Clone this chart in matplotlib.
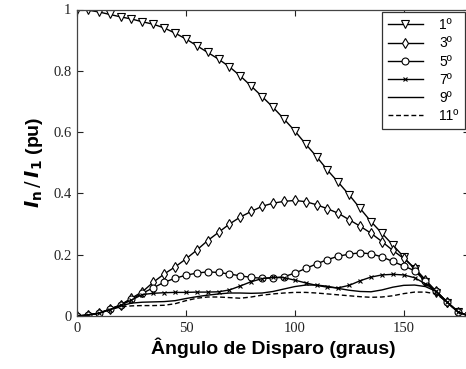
import matplotlib
matplotlib.use("Agg")
import matplotlib.pyplot as plt
import numpy as np

angle = list(range(0, 181, 5))

h1 = [1.0, 0.998, 0.992, 0.984, 0.976, 0.969, 0.96, 0.952, 0.94, 0.923, 0.904, 0.882,
      0.86, 0.838, 0.813, 0.783, 0.75, 0.716, 0.681, 0.643, 0.604, 0.561, 0.52, 0.476,
      0.436, 0.395, 0.351, 0.308, 0.27, 0.232, 0.193, 0.153, 0.112, 0.075, 0.043, 0.014, 0.0]
h3 = [0.0, 0.003, 0.009, 0.022, 0.036, 0.058, 0.079, 0.11, 0.137, 0.16, 0.186, 0.215,
      0.246, 0.273, 0.3, 0.323, 0.341, 0.358, 0.368, 0.374, 0.377, 0.373, 0.363, 0.35,
      0.335, 0.314, 0.293, 0.27, 0.243, 0.214, 0.188, 0.157, 0.118, 0.08, 0.045, 0.013, 0.0]
h5 = [0.0, 0.003, 0.009, 0.022, 0.036, 0.055, 0.074, 0.092, 0.11, 0.123, 0.133, 0.14,
      0.144, 0.142, 0.137, 0.131, 0.126, 0.123, 0.124, 0.128, 0.14, 0.155, 0.17, 0.184,
      0.195, 0.202, 0.206, 0.203, 0.193, 0.178, 0.163, 0.148, 0.113, 0.08, 0.045, 0.013, 0.0]
h7 = [0.0, 0.003, 0.009, 0.021, 0.035, 0.052, 0.07, 0.074, 0.076, 0.077, 0.077, 0.078,
      0.078, 0.079, 0.085, 0.098, 0.112, 0.122, 0.126, 0.125, 0.117, 0.108, 0.1, 0.094,
      0.092, 0.1, 0.115, 0.127, 0.134, 0.136, 0.134, 0.125, 0.105, 0.08, 0.045, 0.013, 0.0]
h9 = [0.0, 0.003, 0.009, 0.02, 0.033, 0.042, 0.045, 0.046, 0.047, 0.05, 0.057, 0.063,
      0.068, 0.072, 0.075, 0.075, 0.074, 0.075, 0.08, 0.088, 0.096, 0.101, 0.101, 0.097,
      0.09, 0.084, 0.08, 0.079, 0.085, 0.094, 0.1, 0.101, 0.096, 0.08, 0.045, 0.013, 0.0]
h11 = [0.0, 0.003, 0.009, 0.02, 0.03, 0.033, 0.034, 0.034, 0.035, 0.04, 0.05, 0.058,
       0.062, 0.062, 0.06, 0.058, 0.062, 0.068, 0.072, 0.075, 0.077, 0.077, 0.075, 0.072,
       0.069, 0.066, 0.063, 0.061, 0.062, 0.066, 0.073, 0.078, 0.078, 0.072, 0.045, 0.013, 0.0]

labels = ["1º", "3º", "5º", "7º", "9º", "11º"]
xticks = [0, 50, 100, 150]
yticks = [0, 0.2, 0.4, 0.6, 0.8, 1]
yticklabels = ["0", "0.2", "0.4", "0.6", "0.8", "1"]

fig = plt.figure(figsize=(4.66, 3.69), dpi=100)
W, H = 466, 369
ax = fig.add_axes([77 / W, (H - 316) / H, (469 - 77) / W, (316 - 9.5) / H])

lw = 1.0
ax.plot(angle, h1, color="black", lw=lw, marker="v", ms=5.5, mfc="white", mec="black", mew=0.8, label=labels[0])
ax.plot(angle, h3, color="black", lw=lw, marker="d", ms=5.5, mfc="white", mec="black", mew=0.8, label=labels[1])
ax.plot(angle, h5, color="black", lw=lw, marker="o", ms=5, mfc="white", mec="black", mew=0.8, label=labels[2])
ax.plot(angle, h7, color="black", lw=lw, marker="x", ms=3, mec="black", mew=0.8, label=labels[3])
ax.plot(angle, h9, color="black", lw=lw, label=labels[4])
ax.plot(angle, h11, color="black", lw=lw, ls=(0, (3.5, 2)), label=labels[5])

ax.set_xlim(0, 180)
ax.set_ylim(0, 1)
ax.set_xticks(xticks)
ax.set_yticks(yticks)
ax.set_yticklabels(yticklabels)
ax.tick_params(direction="in", top=True, right=True, length=4, width=0.8,
               labelsize=10.5, pad=4, colors="#222222")
for lab in ax.get_xticklabels() + ax.get_yticklabels():
    lab.set_family("Liberation Serif")
for sp in ax.spines.values():
    sp.set_linewidth(0.9)
    sp.set_color("#444444")

ax.set_xlabel("Ângulo de Disparo (graus)", family="Liberation Sans", fontweight="bold",
              fontsize=14, labelpad=2)
plt.rcParams["mathtext.fontset"] = "custom"
plt.rcParams["mathtext.bf"] = "Liberation Sans:bold"
plt.rcParams["mathtext.bfit"] = "Liberation Sans:bold:italic"
ax.set_ylabel(r"$\mathbfit{I}_{\mathbf{n}}\,/\,\mathbfit{I}_{\mathbf{1}}$ (pu)",
              family="Liberation Sans", fontweight="bold", fontsize=14, labelpad=6)

leg = ax.legend(loc="upper right", bbox_to_anchor=(465 / W, 1 - 12 / H),
                bbox_transform=fig.transFigure, borderaxespad=0, fancybox=False,
                edgecolor="#333333", framealpha=1,
                prop={"family": "Liberation Sans", "size": 10},
                handlelength=2.5, labelspacing=0.3, borderpad=0.45, handletextpad=1.2)
leg.get_frame().set_linewidth(0.9)

fig.savefig("out.png", dpi=100)
